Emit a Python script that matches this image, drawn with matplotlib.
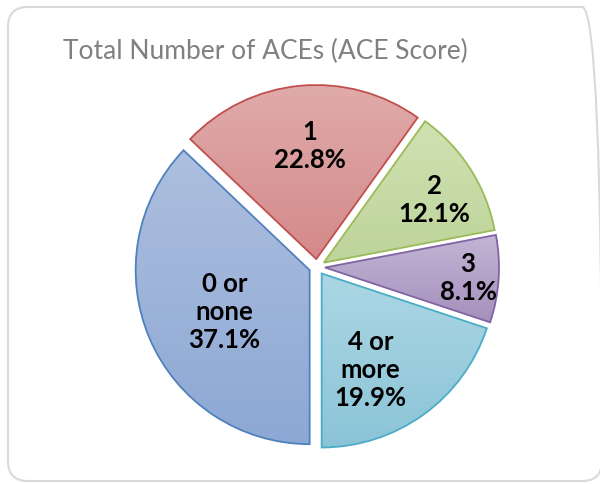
import numpy as np
import matplotlib.pyplot as plt
from matplotlib.colors import LinearSegmentedColormap
from matplotlib.patches import FancyBboxPatch

plt.rcParams["font.family"] = ["Lato", "DejaVu Sans"]

# ACE score distribution
categories = ["0 or\nnone", "1", "2", "3", "4 or\nmore"]
shares = [37.1, 22.8, 12.1, 8.1, 19.9]

# Office-style palette: outline, light (top) and dark (bottom) gradient stops
edge_colors = ["#4f81bd", "#c0504d", "#9bbb59", "#8064a2", "#4bacc6"]
top_colors = ["#aebfdf", "#e0abaa", "#d0e1b2", "#c3b5d5", "#acd7e4"]
bottom_colors = ["#8ca8d4", "#d4898a", "#bdd49a", "#a590bd", "#8bc4d7"]

# where each label sits: fraction of radius and a small angular nudge (deg)
label_frac = [0.59, 0.70, 0.78, 0.87, 0.66]
label_nudge = [2.4, -2.0, -2.5, 0.0, -8.0]

W, H = 600, 485
center = (317, 217)
radius = 174

fig = plt.figure(figsize=(W / 100, H / 100), dpi=100)
ax = fig.add_axes([0, 0, 1, 1])

wedges, _ = ax.pie(shares, explode=[8] * len(shares), startangle=-90,
                   counterclock=False, center=center, radius=radius,
                   wedgeprops=dict(linewidth=1.3))

grad = np.linspace(0, 1, 256).reshape(-1, 1)
for w, ec, top, bot in zip(wedges, edge_colors, top_colors, bottom_colors):
    ext = w.get_path().get_extents()
    cmap = LinearSegmentedColormap.from_list("fill", [bot, top])
    im = ax.imshow(grad, cmap=cmap, origin="lower", aspect="auto",
                   extent=[ext.x0, ext.x1, ext.y0, ext.y1], zorder=1)
    im.set_clip_path(w)
    w.set_facecolor("none")
    w.set_edgecolor(ec)
    w.set_zorder(2)

for w, name, val, frac, nudge in zip(wedges, categories, shares, label_frac, label_nudge):
    ang = np.deg2rad((w.theta1 + w.theta2) / 2 + nudge)
    x = center[0] + frac * radius * np.cos(ang)
    y = center[1] + frac * radius * np.sin(ang)
    ax.text(x, y, f"{name}\n{val:.1f}%", ha="center", va="center",
            fontsize=18.5, fontweight="bold", color="black",
            linespacing=1.2, zorder=3)

# chart area frame with rounded corners
frame = FancyBboxPatch((8, 3), 594, 474, boxstyle="round,pad=0,rounding_size=20",
                       facecolor="none", edgecolor="#d9d9d9", linewidth=1.5, zorder=0)
ax.add_patch(frame)

ax.text(265, H - 51, "Total Number of ACEs (ACE Score)", ha="center", va="center",
        fontsize=19, color="#808080")

ax.set_xlim(0, W)
ax.set_ylim(0, H)
ax.axis("off")

fig.savefig("out.png", dpi=100, facecolor="white")
